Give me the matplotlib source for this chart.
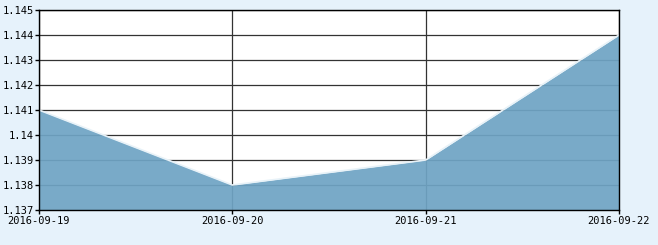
import matplotlib
matplotlib.use("Agg")
import matplotlib.pyplot as plt
import numpy as np

dates = ["2016-09-19", "2016-09-20", "2016-09-21", "2016-09-22"]
values = [1.141, 1.138, 1.139, 1.144]
y_ticks = [1.137, 1.138, 1.139, 1.14, 1.141, 1.142, 1.143, 1.144, 1.145]
y_labels = ["1.137", "1.138", "1.139", "1.14", "1.141", "1.142", "1.143", "1.144", "1.145"]

bg = "#e6f2fb"
fig = plt.figure(figsize=(6.58, 2.45), dpi=100, facecolor=bg)
ax = fig.add_axes([39 / 658, 1 - 210 / 245, 580 / 658, 200 / 245])
ax.set_facecolor("white")

x = np.arange(len(dates))
ax.fill_between(x, values, 1.137, color="#6fa4c4", alpha=0.93, lw=0, zorder=3)
ax.plot(x, values, color="#e8f2f8", lw=1.2, zorder=4)

ax.set_xlim(0, len(dates) - 1)
ax.set_ylim(1.137, 1.145)
ax.set_xticks(x)
ax.set_xticklabels(dates)
ax.set_yticks(y_ticks)
ax.set_yticklabels(y_labels)
ax.grid(True, color="#333333", lw=0.9, zorder=1)
ax.set_axisbelow(True)

for s in ax.spines.values():
    s.set_color("black")
    s.set_linewidth(1)
    s.set_zorder(5)

ax.tick_params(axis="both", direction="out", length=3, width=1, color="black",
               labelsize=7.5, pad=1)
ax.tick_params(axis="y", pad=0.5)
for lab in ax.get_xticklabels() + ax.get_yticklabels():
    lab.set_family("DejaVu Sans Mono")

fig.savefig("out.png", dpi=100, facecolor=bg)
